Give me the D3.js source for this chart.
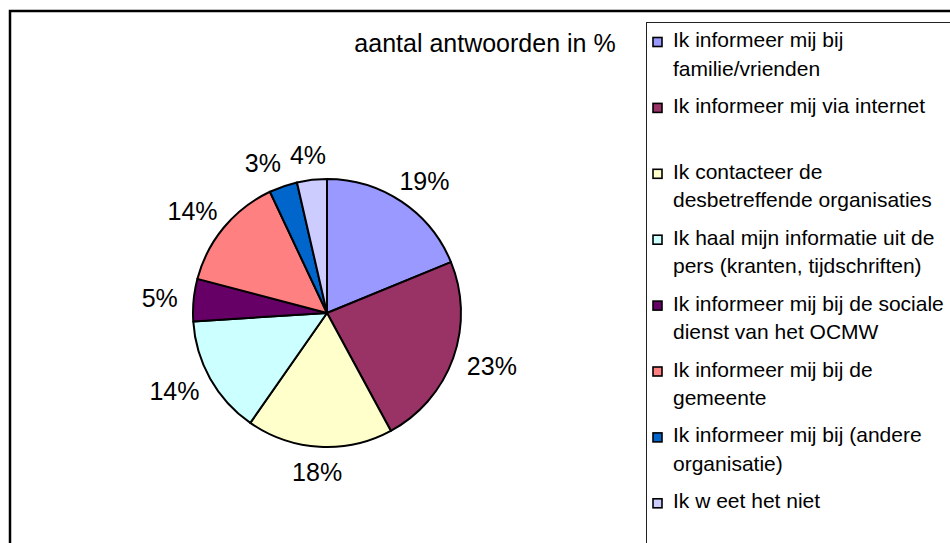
<!DOCTYPE html>
<html>
<head>
<meta charset="utf-8">
<script src="https://cdn.jsdelivr.net/npm/d3@7"></script>
<style>
  body { margin: 0; background: #fff; }
  text { font-family: "Liberation Sans", Arial, sans-serif; fill: #000; }
</style>
</head>
<body>
<svg id="chart" width="950" height="543"></svg>
<script>
// Answers (legend entries, already broken in lines like the original)
var categories = [
    ["Ik informeer mij bij", "familie/vrienden"],
    ["Ik informeer mij via internet"],
    ["Ik contacteer de", "desbetreffende organisaties"],
    ["Ik haal mijn informatie uit de", "pers (kranten, tijdschriften)"],
    ["Ik informeer mij bij de sociale", "dienst van het OCMW"],
    ["Ik informeer mij bij de", "gemeente"],
    ["Ik informeer mij bij (andere", "organisatie)"],
    ["Ik w eet het niet"]
];
var values = [18.8, 23.3, 17.6, 14.3, 5.1, 13.9, 3.4, 3.6];
var colors = ["#9999FF", "#993366", "#FFFFCC", "#CCFFFF", "#660066", "#FF8080", "#0066CC", "#CCCCFF"];
var title = "aantal antwoorden in %";

var svg = d3.select("#chart");

// Outer chart frame (runs off the picture on the right and bottom)
svg.append("rect")
    .attr("x", 10).attr("y", 11)
    .attr("width", 1000).attr("height", 600)
    .attr("fill", "none")
    .attr("stroke", "#000")
    .attr("stroke-width", 2.5);

// Title
svg.append("text")
    .attr("x", 485).attr("y", 52)
    .attr("text-anchor", "middle")
    .style("font-size", "25px")
    .text(title);

// Pie
var cx = 327, cy = 313, radius = 134;
var total = d3.sum(values);

var pie = d3.pie().sort(null).value(function(d) { return d; });
var arc = d3.arc().innerRadius(0).outerRadius(radius);
var arcs = pie(values);

var g = svg.append("g").attr("transform", "translate(" + cx + "," + cy + ")");

g.selectAll("path")
    .data(arcs)
    .enter()
  .append("path")
    .attr("d", arc)
    .attr("fill", function(d, i) { return colors[i]; })
    .attr("stroke", "#000")
    .attr("stroke-width", 2)
    .attr("stroke-linejoin", "round");

// Percentage labels, set just outside the slice
var gap = 16, capHeight = 18;
var boxes = [];
var labels = g.selectAll("text.pct")
    .data(arcs)
    .enter()
  .append("text")
    .classed("pct", true)
    .attr("text-anchor", "middle")
    .style("font-size", "25px")
    .text(function(d) { return Math.round(d.value / total * 100) + "%"; })
    .each(function(d) {
        var a = (d.startAngle + d.endAngle) / 2;
        var ux = Math.sin(a), uy = -Math.cos(a);
        var w = this.getComputedTextLength();
        boxes.push({
            node: this, w: w,
            x: (radius + gap) * ux + w / 2 * ux,
            y: (radius + gap) * uy + capHeight / 2 * uy
        });
    });

// Push overlapping neighbours apart (walk backwards so the last slice keeps its place)
for (var i = boxes.length - 2; i >= 0; i--) {
    var a = boxes[i], b = boxes[i + 1];
    var overlapY = Math.abs(a.y - b.y) < capHeight + 4;
    var minDx = (a.w + b.w) / 2 + 9;
    if (overlapY && a.x < b.x && b.x - a.x < minDx) {
        a.x = b.x - minDx;
    }
}
boxes.forEach(function(bx) {
    d3.select(bx.node).attr("x", bx.x).attr("y", bx.y + capHeight / 2);
});

// Legend box
svg.append("rect")
    .attr("x", 646.5).attr("y", 22.5)
    .attr("width", 400).attr("height", 600)
    .attr("fill", "#fff")
    .attr("stroke", "#222")
    .attr("stroke-width", 1);

var entryY = d3.scaleLinear().domain([0, categories.length - 1]).range([47, 508.3]);
var lineHeight = 28.5;

var legend = svg.selectAll("g.legend")
    .data(categories)
    .enter()
  .append("g")
    .classed("legend", true)
    .attr("transform", function(d, i) { return "translate(0," + entryY(i) + ")"; });

legend.append("rect")
    .attr("x", 653).attr("y", -9.5)
    .attr("width", 9).attr("height", 9)
    .attr("fill", function(d, i) { return colors[i]; })
    .attr("stroke", "#000")
    .attr("stroke-width", 1.6);

legend.append("text")
    .attr("x", 673)
    .style("font-size", "21px")
    .selectAll("tspan")
    .data(function(d) { return d; })
    .enter()
  .append("tspan")
    .attr("x", 673)
    .attr("y", function(d, i) { return i * lineHeight; })
    .text(function(d) { return d; });
</script>
</body>
</html>
